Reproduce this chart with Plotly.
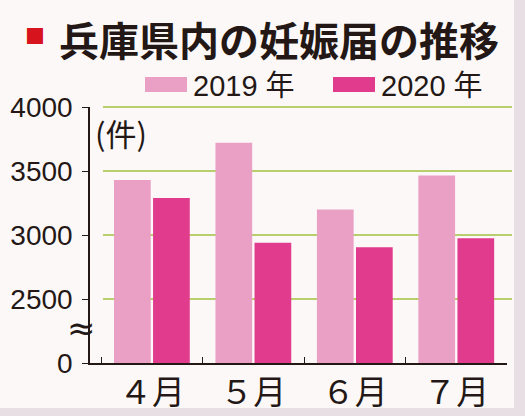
import plotly.graph_objects as go

# data
months = ["４月", "５月", "６月", "７月"]
y2019 = [3430, 3720, 3200, 3465]
y2020 = [3290, 2940, 2905, 2975]
tick_vals = [2000, 2500, 3000, 3500, 4000]
tick_text = ["0", "2500", "3000", "3500", "4000"]
BASE = 2000  # the axis is broken: "0" sits where 2000 would be
TOP = 4000

c2019 = "#eaa0c5"
c2020 = "#e03b8d"
grid = "#b9cf6e"
bg = "#fdf8f8"
ink = "#231815"
num_font = "Liberation Sans, Noto Sans CJK JP"
jp_font = "Noto Sans CJK JP"

W, H = 525, 416
L, R, T, B = 90, 18, 107, 53
pw, ph = W - L - R, H - T - B


def px(x):
    return (x - L) / pw


def py(y):
    return (H - B - y) / ph


fig = go.Figure()
fig.add_trace(go.Bar(x=months, y=[v - BASE for v in y2019], base=BASE, name="2019年",
                     marker_color=c2019, marker_line_width=0))
fig.add_trace(go.Bar(x=months, y=[v - BASE for v in y2020], base=BASE, name="2020年",
                     marker_color=c2020, marker_line_width=0))

fig.update_layout(
    width=W, height=H,
    margin=dict(l=L, r=R, t=T, b=B, autoexpand=False),
    paper_bgcolor=bg, plot_bgcolor=bg,
    barmode="group", bargap=0.23, bargroupgap=0.06,
    showlegend=False,
    font=dict(family=num_font, color=ink),
)

fig.update_xaxes(
    range=[-0.61, 3.5], showline=True, linecolor=ink, linewidth=1.5,
    ticks="inside", ticklen=6, tickcolor=ink, tickson="boundaries",
    showgrid=False, automargin=False,
    tickfont=dict(size=33, family=jp_font, color=ink),
    ticklabelstandoff=0,
)
fig.update_yaxes(
    range=[BASE, TOP], tickvals=tick_vals, ticktext=tick_text,
    showline=True, linecolor=ink, linewidth=1.5,
    ticks="outside", ticklen=6, tickcolor=ink,
    showgrid=False, zeroline=False, automargin=False,
    tickfont=dict(size=28, family=num_font, color=ink),
    ticklabelstandoff=4,
)

# green gridlines (paper y so the top one is not clipped)
for v in tick_vals[1:]:
    fy = (v - BASE) / (TOP - BASE)
    fig.add_shape(type="line", xref="paper", yref="paper", x0=px(103), x1=px(512),
                  y0=fy, y1=fy, line=dict(color=grid, width=2), layer="below")

# frame strips right and bottom
fig.add_shape(type="rect", xref="paper", yref="paper", x0=px(514), x1=px(530),
              y0=py(430), y1=py(-10), fillcolor="#e8dfe5", line_width=0, layer="below")
fig.add_shape(type="rect", xref="paper", yref="paper", x0=px(-10), x1=px(530),
              y0=py(430), y1=py(408), fillcolor="#e8dfe5", line_width=0, layer="below")

# title
fig.add_annotation(text="■", xref="paper", yref="paper", x=px(35), y=py(35),
                   xanchor="center", yanchor="middle", showarrow=False,
                   font=dict(size=20, color="#d7141e", family=jp_font))
fig.add_annotation(text="<b>兵庫県内の妊娠届の推移</b>", xref="paper", yref="paper",
                   x=px(279), y=py(39), xanchor="center", yanchor="middle", showarrow=False,
                   font=dict(size=40, color=ink, family=jp_font))

# legend
for x0, col, lab in [(145, c2019, "2019 年"), (333, c2020, "2020 年")]:
    fig.add_shape(type="rect", xref="paper", yref="paper",
                  x0=px(x0), x1=px(x0 + 42), y0=py(92), y1=py(77),
                  fillcolor=col, line_width=0)
    fig.add_annotation(text=lab, xref="paper", yref="paper", x=px(x0 + 46), y=py(86),
                       xanchor="left", yanchor="middle", showarrow=False,
                       font=dict(size=29, family=num_font, color=ink))

# unit and break mark
fig.add_annotation(text="(件)", xref="paper", yref="paper", x=px(93), y=py(132),
                   xanchor="left", yanchor="middle", showarrow=False,
                   font=dict(size=31, family=jp_font, color=ink))
fig.add_annotation(text="≈", xref="paper", yref="paper", x=px(81), y=py(328),
                   xanchor="center", yanchor="middle", showarrow=False,
                   font=dict(size=34, family="DejaVu Sans", color=ink))

fig.write_html("out.html", config={"displayModeBar": False},
               post_script="document.body.style.margin='0';")
